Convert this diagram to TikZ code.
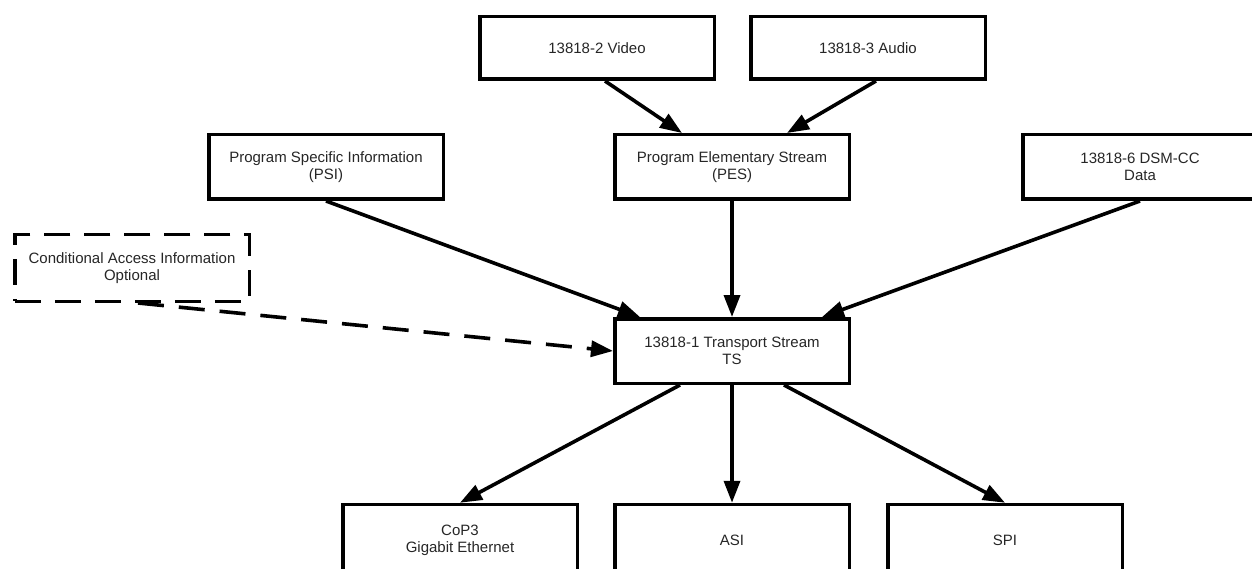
\documentclass[tikz,border=0pt]{standalone}
\usepackage{fontspec}
\setmainfont{Liberation Sans}
\usetikzlibrary{arrows.meta}
\tikzstyle{block}=[rectangle, draw, line width=3.5pt, minimum width=234.5pt, minimum height=64.5pt, inner sep=0pt, align=center, text=black!85, font=\fontsize{15}{17}\selectfont]
\tikzstyle{optblock}=[block, dash pattern=on 26pt off 14pt]
\tikzset{flow/.style={line width=3.6pt, -{Triangle[length=22pt,width=16pt]}}}
\tikzset{optflow/.style={flow, dash pattern=on 26pt off 15pt}}

\begin{document}
\begin{tikzpicture}[x=1pt,y=-1pt]
		\clip (0,0) rectangle (1252,569);
		\node[block, minimum height=62.5pt] (video) at (597,48) {13818-2 Video};
		\node[block, minimum height=62.5pt] (audio) at (868,48) {13818-3 Audio};
		\node[block] (psi) at (326,167) {Program Specific Information\\(PSI)};
		\node[block] (pes) at (732,167) {Program Elementary Stream\\(PES)};
		\node[block] (dsm) at (1140,167) {13818-6 DSM-CC\\Data};
		\node[optblock, minimum height=66.5pt] (ca) at (132,268) {Conditional Access Information\\Optional};
		\node[block] (ts) at (732,351) {13818-1 Transport Stream\\TS};
		\node[block, minimum height=71pt] (cop) at (460,540) {CoP3\\Gigabit Ethernet};
		\node[block, minimum height=71pt] (asi) at (732,540) {ASI};
		\node[block, minimum height=71pt] (spi) at (1005,540) {SPI};
		\draw[flow] ([xshift=8pt]video.south) to ([xshift=-50pt]pes.north);
		\draw[flow] ([xshift=8pt]audio.south) to ([xshift=55pt]pes.north);
		\draw[flow] (psi.south) to ([xshift=-92pt]ts.north);
		\draw[flow] (pes.south) to (ts.north);
		\draw[flow] (dsm.south) to ([xshift=90pt]ts.north);
		\draw[optflow] ([xshift=6pt]ca.south) to (ts.west);
		\draw[flow] ([xshift=-52pt]ts.south) to (cop.north);
		\draw[flow] (ts.south) to (asi.north);
		\draw[flow] ([xshift=52pt]ts.south) to (spi.north);
\end{tikzpicture}
\end{document}
